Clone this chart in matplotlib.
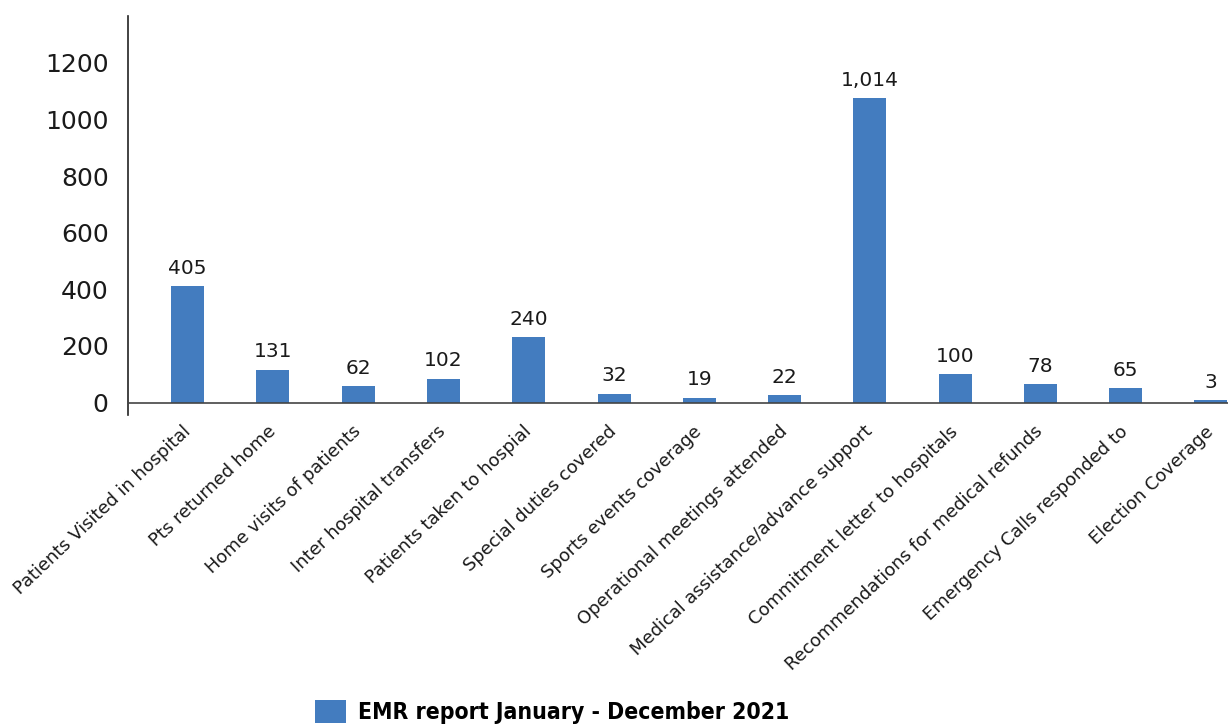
import matplotlib
matplotlib.use("Agg")
import matplotlib.pyplot as plt
from matplotlib import font_manager as fm

# Data
categories = [
    "Patients Visited in hospital",
    "Pts returned home",
    "Home visits of patients",
    "Inter hospital transfers",
    "Patients taken to hospial",
    "Special duties covered",
    "Sports events coverage",
    "Operational meetings attended",
    "Medical assistance/advance support",
    "Commitment letter to hospitals",
    "Recommendations for medical refunds",
    "Emergency Calls responded to",
    "Election Coverage",
]
# bar heights as drawn (they do not quite match the printed labels)
bar_heights = [411, 116, 59, 84, 230, 31, 17, 27, 1076, 101, 66, 52, 9]
value_labels = ["405", "131", "62", "102", "240", "32", "19", "22",
                "1,014", "100", "78", "65", "3"]
y_ticks = [0, 200, 400, 600, 800, 1000, 1200]
series_name = "EMR report January - December 2021"

bar_color = "#437cbf"
text_color = "#1a1a1a"

# narrow bold face for the legend if one is around
have_condensed = any(f.name == "DejaVu Sans" and f.stretch == "condensed"
                     and f.weight in ("bold", 700) for f in fm.fontManager.ttflist)
if have_condensed:
    legend_prop = {"family": "DejaVu Sans", "stretch": "condensed", "weight": "bold", "size": 16.5}
else:
    legend_prop = {"family": "Roboto", "weight": "bold", "size": 16.5}

plt.rcParams["font.family"] = ["DejaVu Sans"]

fig = plt.figure(figsize=(12.28, 7.25), dpi=100)
ax = fig.add_axes([128 / 1228, 310 / 725, 1 - 128 / 1228, 399 / 725])

x = list(range(len(categories)))
bars = ax.bar(x, bar_heights, width=0.387, color=bar_color, label=series_name, zorder=2)

for rect, lab in zip(bars, value_labels):
    ax.annotate(lab, (rect.get_x() + rect.get_width() / 2, rect.get_height()),
                xytext=(0, 6), textcoords="offset points",
                ha="center", va="bottom", fontsize=14.5, color=text_color)

ax.set_xlim(-0.70, 12.2)
ax.set_ylim(-44, 1366)
ax.set_yticks(y_ticks)
ax.set_yticklabels([str(v) for v in y_ticks], fontsize=18, color=text_color)
ax.tick_params(axis="y", length=0, pad=14)

ax.set_xticks(x)
ax.set_xticklabels(categories, rotation=43.5, ha="right", va="center",
                   rotation_mode="anchor", fontsize=12.9, color=text_color)
ax.tick_params(axis="x", length=0, pad=10)

for side in ["top", "right", "bottom"]:
    ax.spines[side].set_visible(False)
ax.spines["left"].set_color("#222222")
ax.spines["left"].set_linewidth(1.2)
# horizontal axis line at zero
ax.axhline(0, color="#444444", linewidth=1.2, zorder=3)

fig.legend(handles=[bars], labels=[series_name], loc="center",
           bbox_to_anchor=(552 / 1228, 13 / 725), frameon=False,
           handlelength=1.35, handleheight=1.15, handletextpad=0.55,
           prop=legend_prop)

fig.savefig("out.png", dpi=100)
